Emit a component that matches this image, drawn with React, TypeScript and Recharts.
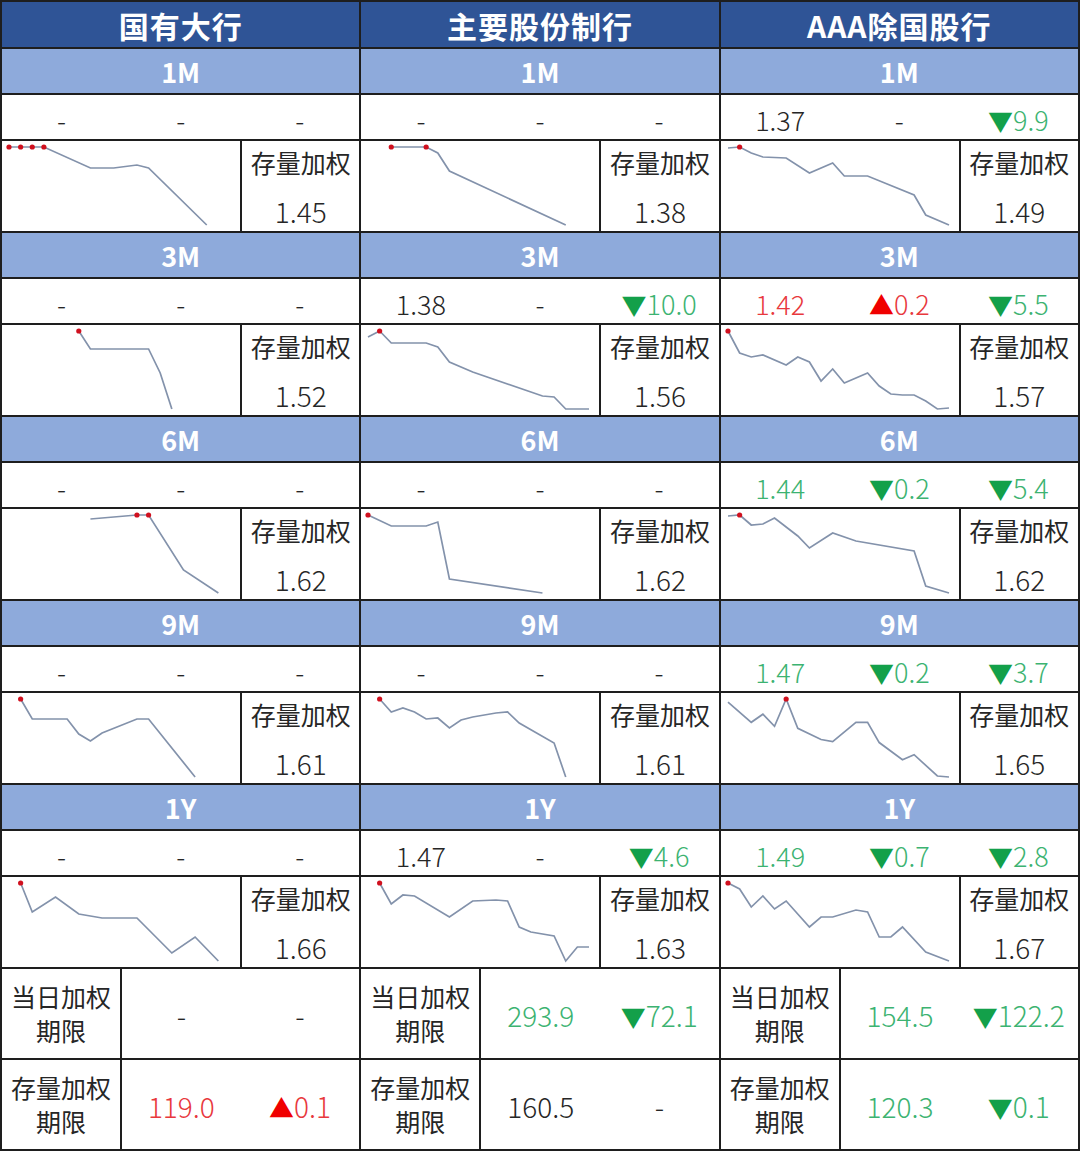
import React from 'react';
import { LineChart, Line, XAxis, YAxis } from 'recharts';

// trading-day slots shared by every sparkline
const DAY_IDX = [0, 1, 2, 3, 4, 5, 6, 7, 8, 9, 10, 11, 12, 13, 14, 15, 16, 17, 18, 19];

const BANKS = ['国有大行', '主要股份制行', 'AAA除国股行'];
const TENORS = ['1M', '3M', '6M', '9M', '1Y'];

// daily issuance rates (%), null = no issuance that day
const GY_1M = [1.81, 1.81, 1.81, 1.81, null, null, null, 1.705, null, 1.705, null, 1.72, 1.705, null, null, null, null, 1.42, null, null];
const GY_3M = [null, null, null, null, null, null, 1.81, 1.72, null, null, null, null, 1.72, 1.6, 1.42, null, null, null, null, null];
const GY_6M = [null, null, null, null, null, null, null, 1.79, null, null, null, 1.81, 1.81, null, null, 1.535, null, null, 1.42, null];
const GY_9M = [null, 1.815, 1.715, null, null, 1.715, 1.64, 1.605, 1.645, null, null, 1.715, 1.715, null, null, null, 1.425, null, null, null];
const GY_1Y = [null, 1.815, 1.67, null, 1.745, null, 1.66, null, 1.64, null, null, 1.64, null, null, 1.465, null, 1.545, null, 1.425, null];

const ZY_1M = [null, null, 1.81, null, null, 1.81, 1.78, 1.69, null, null, null, null, null, null, null, null, null, 1.42, null, null];
const ZY_3M = [1.78, 1.81, 1.75, null, null, 1.75, 1.73, 1.655, null, 1.605, null, null, null, null, null, 1.485, 1.48, 1.42, null, 1.42];
const ZY_6M = [1.81, null, 1.755, null, null, 1.755, 1.775, 1.49, null, null, null, null, null, null, null, 1.42, null, null, null, null];
const ZY_9M = [null, 1.815, 1.75, 1.77, 1.75, 1.715, 1.72, 1.67, 1.71, 1.725, null, 1.745, 1.75, 1.695, null, null, 1.595, 1.425, null, null];
const ZY_1Y = [null, 1.815, 1.71, 1.755, 1.75, null, null, 1.645, null, 1.725, null, 1.73, 1.725, 1.595, 1.57, null, 1.55, 1.425, 1.495, 1.495];

const AAA_1M = [1.805, 1.81, 1.78, 1.76, null, 1.755, null, 1.68, null, 1.73, 1.665, null, 1.665, null, null, null, 1.57, 1.47, null, 1.42];
const AAA_3M = [1.81, 1.7, 1.68, 1.69, null, 1.64, 1.68, 1.655, 1.56, 1.62, 1.55, null, 1.6, 1.535, 1.495, 1.49, 1.49, 1.46, 1.42, 1.425];
const AAA_6M = [1.805, 1.81, 1.76, 1.765, 1.795, null, 1.705, 1.645, null, 1.72, null, 1.68, null, null, null, null, 1.63, 1.455, null, 1.42];
const AAA_9M = [1.795, null, 1.695, 1.735, 1.675, 1.81, 1.665, null, 1.61, 1.6, null, 1.695, 1.695, 1.595, null, 1.51, 1.535, null, 1.43, 1.425];
const AAA_1Y = [1.815, 1.785, 1.695, 1.75, 1.685, 1.725, null, 1.595, 1.645, 1.645, null, 1.68, 1.67, 1.545, 1.545, 1.595, null, 1.47, null, 1.425];

const SERIES = [
  [GY_1M, GY_3M, GY_6M, GY_9M, GY_1Y],
  [ZY_1M, ZY_3M, ZY_6M, ZY_9M, ZY_1Y],
  [AAA_1M, AAA_3M, AAA_6M, AAA_9M, AAA_1Y],
];

// per tenor: latest rate, change vs previous, spread vs stock weighted
const GY_QUOTES = [['-', '-', '-'], ['-', '-', '-'], ['-', '-', '-'], ['-', '-', '-'], ['-', '-', '-']];
const ZY_QUOTES = [['-', '-', '-'], ['1.38', '-', '▼10.0'], ['-', '-', '-'], ['-', '-', '-'], ['1.47', '-', '▼4.6']];
const AAA_QUOTES = [['1.37', '-', '▼9.9'], ['1.42', '▲0.2', '▼5.5'], ['1.44', '▼0.2', '▼5.4'], ['1.47', '▼0.2', '▼3.7'], ['1.49', '▼0.7', '▼2.8']];
const QUOTES = [GY_QUOTES, ZY_QUOTES, AAA_QUOTES];
// tone of the latest rate: k = neutral, r = up, g = down
const LATEST_TONE = [['k', 'k', 'k', 'k', 'k'], ['k', 'k', 'k', 'k', 'k'], ['k', 'r', 'g', 'g', 'g']];

const STOCK_WEIGHTED = [
  ['1.45', '1.52', '1.62', '1.61', '1.66'],
  ['1.38', '1.56', '1.62', '1.61', '1.63'],
  ['1.49', '1.57', '1.62', '1.65', '1.67'],
];

const DAILY_TERM = [['-', '-'], ['293.9', '▼72.1'], ['154.5', '▼122.2']];
const DAILY_TERM_TONE = ['k', 'g', 'g'];
const STOCK_TERM = [['119.0', '▲0.1'], ['160.5', '-'], ['120.3', '▼0.1']];
const STOCK_TERM_TONE = ['r', 'k', 'g'];

const FONT = '"Noto Sans CJK SC", "Noto Sans", sans-serif';
const LINE = '#1e1e1e';
const DARK_BLUE = '#2f5496';
const LIGHT_BLUE = '#8eaadb';
const TEXT = '#262626';
const GREEN_TXT = '#3cb371';
const GREEN_TRI = '#13a04a';
const RED_TXT = '#e8383d';
const RED_TRI = '#f00000';

const toneColor = (t: string) => (t === 'r' ? RED_TXT : t === 'g' ? GREEN_TXT : TEXT);

const Value = ({ text, tone }: { text: string; tone: string }) => {
  if (text.startsWith('▼') || text.startsWith('▲')) {
    const up = text.startsWith('▲');
    return (
      <span style={{ color: up ? RED_TXT : GREEN_TXT }}>
        <span style={{ color: up ? RED_TRI : GREEN_TRI, fontSize: 25 }}>{text[0]}</span>
        {text.slice(1)}
      </span>
    );
  }
  return <span style={{ color: text === '-' ? TEXT : toneColor(tone) }}>{text}</span>;
};

const Spark = ({ values }: { values: (number | null)[] }) => {
  const data = DAY_IDX.map((d, i) => ({ d, v: values[i] }));
  const peak = Math.max(...(values.filter((v) => v != null) as number[]));
  return (
    <LineChart width={238} height={90} data={data} margin={{ top: 6, right: 10, bottom: 6, left: 7 }}>
      <XAxis dataKey="d" type="number" domain={[0, 19]} hide />
      <YAxis domain={['dataMin', 'dataMax']} hide />
      <Line
        dataKey="v"
        stroke="#8392ab"
        strokeWidth={1.7}
        connectNulls
        isAnimationActive={false}
        dot={(p: any) =>
          p.payload && p.payload.v === peak && p.cy != null ? (
            <circle key={`pk${p.index}`} cx={p.cx} cy={p.cy} r={2.6} fill="#d0101e" />
          ) : (
            <g key={`nd${p.index}`} />
          )
        }
      />
    </LineChart>
  );
};

const cellBase: React.CSSProperties = {
  background: '#fff',
  display: 'flex',
  alignItems: 'center',
  justifyContent: 'center',
  fontFamily: FONT,
};

const Group = ({ b }: { b: number }) => (
  <div
    style={{
      display: 'grid',
      gridTemplateRows: '45px repeat(5, 44px 44px 90px) 89px 89px',
      rowGap: 2,
    }}
  >
    <div style={{ ...cellBase, background: DARK_BLUE, color: '#fff', fontSize: 30, fontWeight: 700, letterSpacing: 1 }}>
      {BANKS[b]}
    </div>
    {TENORS.map((t, k) => (
      <React.Fragment key={t}>
        <div style={{ ...cellBase, background: LIGHT_BLUE, color: '#fff', fontSize: 27, fontWeight: 700 }}>{t}</div>
        <div style={{ ...cellBase, fontSize: 27, fontWeight: 300, paddingTop: 4 }}>
          {QUOTES[b][k].map((q, j) => (
            <div key={j} style={{ flex: 1, textAlign: 'center' }}>
              <Value text={q} tone={LATEST_TONE[b][k]} />
            </div>
          ))}
        </div>
        <div style={{ display: 'flex', columnGap: 2 }}>
          <div style={{ width: 238, background: '#fff' }}>
            <Spark values={SERIES[b][k]} />
          </div>
          <div
            style={{
              ...cellBase,
              flex: 1,
              flexDirection: 'column',
              color: TEXT,
              fontSize: 25,
              lineHeight: '34px',
              rowGap: 15,
            }}
          >
            <div>存量加权</div>
            <div style={{ fontSize: 28, fontWeight: 300 }}>{STOCK_WEIGHTED[b][k]}</div>
          </div>
        </div>
      </React.Fragment>
    ))}
    {[
      { label: ['当日加权', '期限'], vals: DAILY_TERM[b], tone: DAILY_TERM_TONE[b] },
      { label: ['存量加权', '期限'], vals: STOCK_TERM[b], tone: STOCK_TERM_TONE[b] },
    ].map((r, k) => (
      <div key={k} style={{ display: 'flex', columnGap: 2 }}>
        <div style={{ ...cellBase, width: 118, flexDirection: 'column', color: TEXT, fontSize: 25, lineHeight: '34px', paddingBottom: 2 }}>
          <div>{r.label[0]}</div>
          <div>{r.label[1]}</div>
        </div>
        <div style={{ ...cellBase, flex: 1, fontSize: 28, fontWeight: 300, paddingTop: 2 }}>
          {r.vals.map((v, j) => (
            <div key={j} style={{ flex: 1, textAlign: 'center' }}>
              <Value text={v} tone={r.tone} />
            </div>
          ))}
        </div>
      </div>
    ))}
  </div>
);

const App: React.FC = () => (
  <div
    style={{
      position: 'absolute',
      left: 0,
      top: 0,
      width: 1080,
      height: 1151,
      boxSizing: 'border-box',
      padding: 2,
      background: LINE,
      display: 'grid',
      gridTemplateColumns: 'repeat(3, 1fr)',
      columnGap: 2,
    }}
  >
    {BANKS.map((_, b) => (
      <Group key={b} b={b} />
    ))}
  </div>
);

export default App;
